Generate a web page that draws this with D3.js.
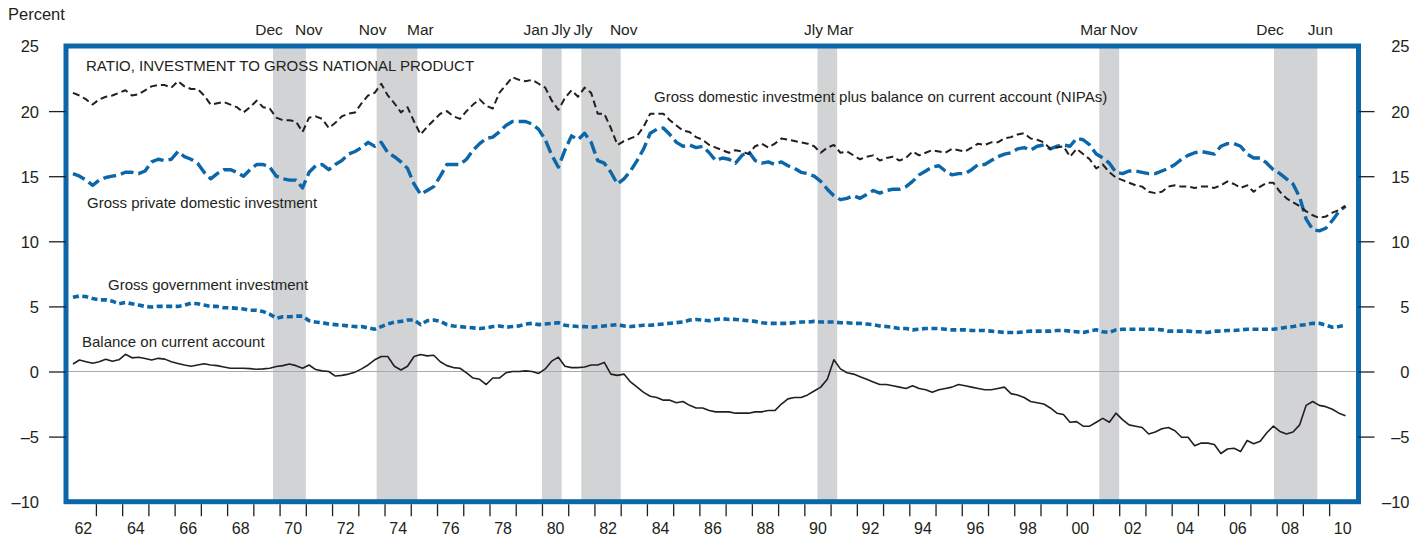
<!DOCTYPE html>
<html>
<head>
<meta charset="utf-8">
<script src="https://cdn.jsdelivr.net/npm/d3@7"></script>
<style>
  body { margin: 0; background: #fff; }
  svg text { font-family: "Liberation Sans", Arial, Helvetica, sans-serif; fill: #231f20; }
</style>
</head>
<body>
<div id="chart"></div>
<script>
// quarterly ratios, 1962Q1 .. 2010Q3 (percent)
var startYear = 1962

var gdiPlusCa = [
  21.4, 21.2, 20.9, 20.5,  20.9, 21.1, 21.2, 21.4,  21.6, 21.2, 21.3, 21.6,
  21.9, 22.0, 22.0, 21.8,  22.3, 21.9, 21.7, 21.7,  21.2, 20.5, 20.6, 20.7,
  20.5, 20.3, 19.9, 20.3,  20.8, 20.3, 20.2, 19.5,  19.3, 19.3, 19.2, 18.4,
  19.5, 19.6, 19.4, 18.7,  19.1, 19.6, 19.8, 19.9,  20.6, 21.2, 21.4, 22.1,
  21.2, 20.6, 19.9, 20.3,  19.2, 18.2, 18.8, 19.3,  19.8, 20.0, 19.6, 19.4,
  20.0, 20.5, 20.9, 20.4,  20.2, 21.4, 22.0, 22.6,  22.4, 22.3, 22.4, 22.1,
  21.8, 20.8, 20.1, 21.0,  21.6, 21.1, 21.8, 21.4,  19.8, 19.8, 18.7, 17.4,
  17.7, 17.9, 18.1, 18.8,  19.8, 19.8, 19.8, 19.3,  18.9, 18.5, 18.4, 18.0,
  17.8, 17.4, 17.2, 17.0,  16.8, 17.0, 16.9, 16.7,  17.3, 17.5, 17.2, 17.5,
  17.9, 17.8, 17.7, 17.6,  17.5, 17.3, 16.8, 17.2,  17.4, 16.8, 16.9, 16.6,
  16.3, 16.5, 16.6, 16.2,  16.4, 16.5, 16.2, 16.4,  16.9, 16.6, 16.8, 17.0,
  16.9, 16.8, 17.1, 17.0,  16.9, 17.2, 17.5, 17.4,  17.6, 17.6, 17.9, 18.0,
  18.2, 18.3, 17.9, 17.8,  17.6, 17.1, 17.2, 17.3,  16.5, 17.1, 16.7, 16.3,
  15.6, 15.9, 15.3, 14.9,  14.7, 14.5, 14.3, 14.2,  13.8, 13.7, 13.8, 14.2,
  14.3, 14.2, 14.2, 14.1,  14.2, 14.2, 14.1, 14.3,  14.6, 14.4, 14.1, 14.3,
  13.8, 14.2, 14.5, 14.5,  13.8, 13.3, 13.0, 12.7,  12.3, 12.0, 11.8, 11.9,
  12.2, 12.4, 12.7
]

var privateInv = [
  15.2, 15.0, 14.7, 14.3,  14.7, 14.9, 15.0, 15.1,  15.3, 15.3, 15.2, 15.4,
  16.1, 16.3, 16.2, 16.3,  16.9, 16.5, 16.3, 16.0,  15.3, 14.8, 15.2, 15.5,
  15.5, 15.3, 15.0, 15.5,  15.9, 15.9, 15.7, 15.0,  14.8, 14.7, 14.7, 14.1,
  15.3, 15.8, 15.9, 15.5,  15.9, 16.2, 16.7, 16.9,  17.2, 17.6, 17.3, 17.6,
  16.8, 16.5, 16.1, 15.6,  14.4, 13.6, 13.9, 14.2,  15.0, 15.9, 15.9, 15.9,
  16.3, 17.0, 17.5, 17.9,  18.0, 18.4, 18.9, 19.2,  19.2, 19.2, 19.0, 18.6,
  17.8, 16.6, 15.7, 17.0,  18.1, 17.8, 18.3, 17.6,  16.2, 16.0, 15.3, 14.4,
  14.8, 15.4, 16.2, 17.1,  18.3, 18.6, 18.7, 18.2,  17.6, 17.3, 17.4, 17.2,
  17.3, 16.8, 16.2, 16.4,  16.3, 16.0, 16.6, 16.9,  16.2, 16.0, 16.1, 15.9,
  16.1, 15.8, 15.6, 15.3,  15.2, 15.0, 14.6, 14.0,  13.5, 13.2, 13.3, 13.5,
  13.3, 13.6, 13.9, 13.7,  13.9, 14.0, 14.0, 14.2,  14.6, 15.1, 15.4, 15.7,
  15.8, 15.4, 15.1, 15.2,  15.2, 15.5, 15.9, 15.9,  16.2, 16.5, 16.7, 16.8,
  17.1, 17.2, 17.0, 17.3,  17.4, 17.1, 17.3, 17.4,  17.3, 17.9, 17.8, 17.4,
  16.7, 16.4, 16.0, 15.3,  15.2, 15.4, 15.4, 15.3,  15.2, 15.2, 15.4, 15.6,
  15.9, 16.3, 16.6, 16.8,  16.9, 16.8, 16.7, 17.3,  17.5, 17.5, 17.3, 16.7,
  16.4, 16.4, 16.0, 15.5,  15.2, 14.8, 14.4, 13.4,  11.7, 10.9, 10.8, 11.0,
  11.6, 12.3, 12.7
]

var govInv = [
  5.7, 5.8, 5.75, 5.6,  5.5, 5.5, 5.4, 5.2,  5.3, 5.2, 5.1, 5.0,
  4.95, 5.0, 5.0, 5.0,  5.0, 5.1, 5.25, 5.2,  5.1, 5.0, 5.0, 4.9,
  4.9, 4.85, 4.8, 4.7,  4.7, 4.6, 4.4, 4.1,  4.2, 4.2, 4.25, 4.25,
  3.9, 3.8, 3.75, 3.65,  3.6, 3.55, 3.5, 3.45,  3.45, 3.35, 3.25, 3.45,
  3.65, 3.8, 3.85, 3.95,  3.95, 3.6, 3.9, 3.95,  3.85, 3.6, 3.5, 3.45,
  3.4, 3.35, 3.3, 3.35,  3.45, 3.5, 3.4, 3.45,  3.5, 3.65, 3.7, 3.6,
  3.65, 3.7, 3.75, 3.55,  3.5, 3.45, 3.45, 3.4,  3.45, 3.5, 3.55, 3.6,
  3.5, 3.45, 3.5, 3.55,  3.55, 3.6, 3.65, 3.7,  3.75, 3.8, 3.95, 4.0,
  3.95, 3.9, 4.0, 4.05,  4.0, 4.0, 3.95, 3.9,  3.85, 3.75, 3.7, 3.7,
  3.7, 3.7, 3.75, 3.8,  3.8, 3.85, 3.8, 3.8,  3.8, 3.75, 3.75, 3.7,
  3.7, 3.65, 3.6, 3.5,  3.45, 3.4, 3.3, 3.3,  3.2, 3.25, 3.3, 3.3,
  3.3, 3.25, 3.2, 3.2,  3.2, 3.15, 3.15, 3.15,  3.1, 3.05, 3.0, 3.0,
  3.0, 3.05, 3.1, 3.1,  3.1, 3.1, 3.15, 3.15,  3.1, 3.05, 3.0, 3.1,
  3.2, 3.05, 3.0, 3.2,  3.25, 3.25, 3.25, 3.25,  3.25, 3.25, 3.2, 3.1,
  3.1, 3.1, 3.1, 3.05,  3.05, 3.0, 3.1, 3.1,  3.15, 3.15, 3.2, 3.25,
  3.25, 3.25, 3.25, 3.25,  3.3, 3.4, 3.45, 3.55,  3.6, 3.7, 3.7, 3.55,
  3.4, 3.45, 3.55
]

var currentAcct = [
  0.58, 0.88, 0.75, 0.63,  0.75, 0.94, 0.78, 0.9,  1.32, 1.05, 1.1, 1.0,
  0.88, 1.01, 0.95, 0.75,  0.62, 0.5, 0.4, 0.5,  0.6, 0.5, 0.45, 0.35,
  0.25, 0.25, 0.25, 0.22,  0.17, 0.2, 0.25, 0.38,  0.45, 0.58, 0.45, 0.25,
  0.5, 0.15, 0.05, 0.0,  -0.35, -0.3, -0.2, -0.05,  0.2, 0.5, 0.9, 1.15,
  1.15, 0.4, 0.12, 0.4,  1.15, 1.3, 1.2, 1.25,  0.75, 0.45, 0.3, 0.25,
  -0.1, -0.5, -0.6, -1.0,  -0.5, -0.5, -0.1, 0.0,  0.0, 0.05, 0.0, -0.15,
  0.2, 0.8, 1.1, 0.4,  0.3, 0.3, 0.35, 0.5,  0.5, 0.7, -0.2, -0.3,
  -0.2, -0.8, -1.2, -1.6,  -1.9, -2.0, -2.2, -2.2,  -2.4, -2.3, -2.6, -2.8,
  -2.8, -3.0, -3.1, -3.1,  -3.1, -3.2, -3.2, -3.2,  -3.1, -3.1, -3.0, -3.0,
  -2.5, -2.1, -2.0, -2.0,  -1.8, -1.5, -1.2, -0.6,  0.9, 0.2, -0.1, -0.2,
  -0.4, -0.6, -0.8, -1.0,  -1.0, -1.1, -1.2, -1.3,  -1.1, -1.3, -1.4, -1.6,
  -1.4, -1.3, -1.2, -1.0,  -1.1, -1.2, -1.3, -1.4,  -1.4, -1.3, -1.2, -1.7,
  -1.8, -2.0, -2.3, -2.4,  -2.5, -2.8, -3.2, -3.3,  -3.9, -3.85, -4.2, -4.2,
  -3.9, -3.6, -3.9, -3.2,  -3.7, -4.1, -4.2, -4.3,  -4.8, -4.65, -4.4, -4.3,
  -4.55, -5.05, -5.05, -5.7,  -5.5, -5.5, -5.6, -6.3,  -5.95, -5.9, -6.15, -5.3,
  -5.55, -5.35, -4.7, -4.2,  -4.6, -4.8, -4.65, -4.1,  -2.6, -2.3, -2.6, -2.7,
  -2.9, -3.2, -3.4
]

// recessions (decimal years) and their month labels
var recStart = [1969.75, 1973.7, 1980.0, 1981.5, 1990.5, 2001.24, 2007.9]
var recEnd = [1971.0, 1975.25, 1980.75, 1983.0, 1991.25, 2002.0, 2009.55]
var recStartLabel = ['Dec', 'Nov', 'Jan', 'Jly', 'Jly', 'Mar', 'Dec']
var recEndLabel = ['Nov', 'Mar', 'Jly', 'Nov', 'Mar', 'Nov', 'Jun']

var yTicks = [-10, -5, 0, 5, 10, 15, 20, 25]
var yearTicks = d3.range(1963, 2011)
var yearLabels = d3.range(1962, 2011, 2)

var BLUE = '#0b67a9'
var INK = '#231f20'

var svg = d3.select('#chart')
  .append('svg')
  .attr('width', 1428)
  .attr('height', 537)

var x = d3.scaleLinear().domain([1961.86, 2011.12]).range([66, 1358.5])
var y = d3.scaleLinear().domain([-10, 25]).range([501.7, 46])

function toPoints (arr) {
  return arr.map(function (v, i) {
    return { t: startYear + (i + 0.5) / 4, v: v }
  })
}

// recession shading
svg.selectAll('rect.rec')
  .data(recStart)
  .enter().append('rect')
  .attr('class', 'rec')
  .attr('x', d => x(d))
  .attr('width', (d, i) => x(recEnd[i]) - x(d))
  .attr('y', y(25))
  .attr('height', y(-10) - y(25))
  .attr('fill', '#d1d3d4')

// zero line
svg.append('line')
  .attr('x1', x.range()[0]).attr('x2', x.range()[1])
  .attr('y1', y(0)).attr('y2', y(0))
  .attr('stroke', '#a7a9ac')
  .attr('stroke-width', 1.2)

var line = d3.line()
  .x(d => x(d.t))
  .y(d => y(d.v))

var series = [
  { data: currentAcct, color: INK, width: 1.6, dash: null },
  { data: govInv, color: BLUE, width: 3.6, dash: '6,3.5' },
  { data: privateInv, color: BLUE, width: 3.4, dash: '13,5' },
  { data: gdiPlusCa, color: INK, width: 2, dash: '7,4' }
]

series.forEach(function (s) {
  svg.append('path')
    .datum(toPoints(s.data))
    .attr('d', line)
    .attr('fill', 'none')
    .attr('stroke', s.color)
    .attr('stroke-width', s.width)
    .attr('stroke-dasharray', s.dash)
    .attr('stroke-linejoin', 'round')
})

// frame
svg.append('rect')
  .attr('x', x.range()[0])
  .attr('y', y(25))
  .attr('width', x.range()[1] - x.range()[0])
  .attr('height', y(-10) - y(25))
  .attr('fill', 'none')
  .attr('stroke', BLUE)
  .attr('stroke-width', 5)

// y axes
var leftAxis = svg.append('g')
  .attr('transform', 'translate(' + x.range()[0] + ',0)')
  .call(d3.axisLeft(y).tickValues(yTicks).tickSize(17).tickPadding(10).tickFormat(d => d < 0 ? '\u2013' + Math.abs(d) : d))
var rightAxis = svg.append('g')
  .attr('transform', 'translate(' + x.range()[1] + ',0)')
  .call(d3.axisRight(y).tickValues(yTicks).tickSize(16).tickFormat(d => d < 0 ? '\u2013' + Math.abs(d) : d))

;[leftAxis, rightAxis].forEach(function (g) {
  g.select('.domain').remove()
  g.selectAll('.tick line')
    .attr('stroke', INK)
    .attr('stroke-width', 1.3)
    .attr('display', d => (d === 25 || d === -10) ? 'none' : null)
  g.selectAll('.tick text')
    .attr('font-size', 16.5)
    .attr('dy', '0.36em')
})
rightAxis.selectAll('.tick text')
  .attr('text-anchor', 'end')
  .attr('x', 51)

// x axis: ticks at year starts, labels centred on even years
var xTickAxis = svg.append('g')
  .attr('transform', 'translate(0,' + (y(-10) + 2.5) + ')')
  .call(d3.axisBottom(x).tickValues(yearTicks).tickSize(12).tickFormat(''))
xTickAxis.select('.domain').remove()
xTickAxis.selectAll('.tick line').attr('stroke', INK).attr('stroke-width', 1.3)

var xLabelAxis = svg.append('g')
  .attr('transform', 'translate(0,' + (y(-10) + 2.5) + ')')
  .call(d3.axisBottom(x)
    .tickValues(yearLabels.map(d => d + 0.5))
    .tickSize(0)
    .tickPadding(18)
    .tickFormat(d => String(Math.floor(d)).slice(2)))
xLabelAxis.select('.domain').remove()
xLabelAxis.selectAll('.tick text').attr('font-size', 16)

// recession month labels with simple collision nudging
var recLabels = []
recStart.forEach(function (d, i) {
  recLabels.push({ text: recStartLabel[i], x: x(d) - 4 })
  recLabels.push({ text: recEndLabel[i], x: x(recEnd[i]) + 3 })
})
var recText = svg.selectAll('text.rlab')
  .data(recLabels)
  .enter().append('text')
  .attr('class', 'rlab')
  .attr('y', 35)
  .attr('font-size', 15.5)
  .attr('text-anchor', 'middle')
  .text(d => d.text)
recText.each(function (d) { d.w = this.getComputedTextLength() })
for (var k = 0; k < 6; k++) {
  for (var i = 1; i < recLabels.length; i++) {
    var a = recLabels[i - 1]
    var b = recLabels[i]
    var over = (a.x + a.w / 2 + 3) - (b.x - b.w / 2)
    if (over > 0) { a.x -= over / 2; b.x += over / 2 }
  }
}
recText.attr('x', d => d.x)

// annotations
svg.append('text').attr('x', 8).attr('y', 20).attr('font-size', 16.5).text('Percent')

var notes = [
  { text: 'RATIO, INVESTMENT TO GROSS NATIONAL PRODUCT', x: 86, y: 71 },
  { text: 'Gross domestic investment plus balance on current account (NIPAs)', x: 654, y: 102 },
  { text: 'Gross private domestic investment', x: 87, y: 208 },
  { text: 'Gross government investment', x: 108, y: 290 },
  { text: 'Balance on current account', x: 82, y: 347 }
]
svg.selectAll('text.note')
  .data(notes)
  .enter().append('text')
  .attr('class', 'note')
  .attr('x', d => d.x)
  .attr('y', d => d.y)
  .attr('font-size', 15)
  .text(d => d.text)
</script>
</body>
</html>
